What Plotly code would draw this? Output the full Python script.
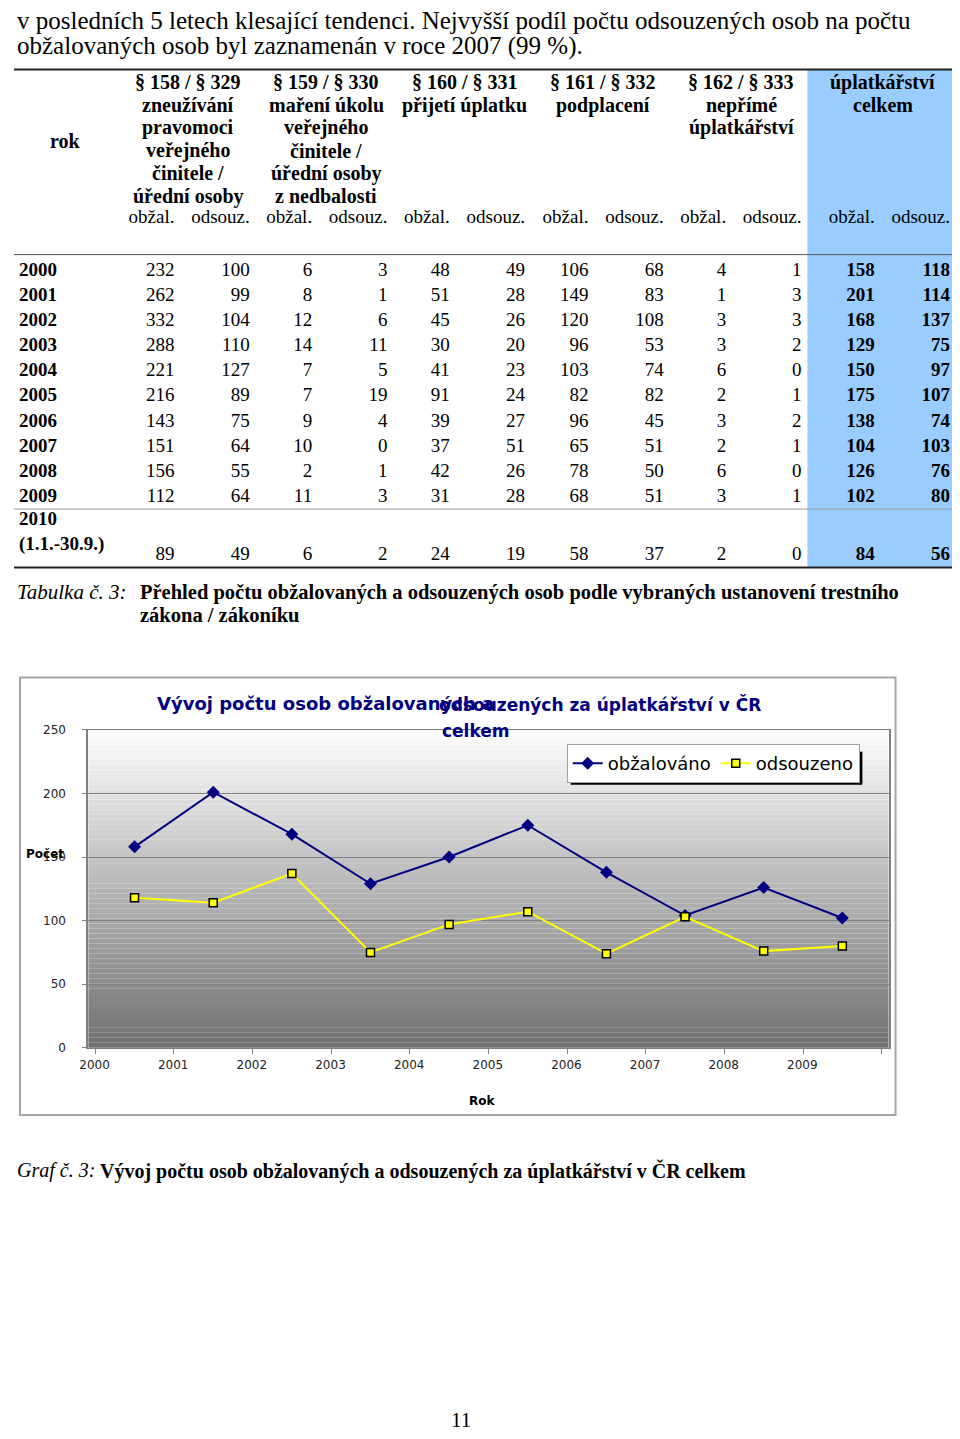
import plotly.graph_objects as go

# the page body keeps the browser's 8px margin, so the figure is 16px smaller
# than the window and every page position is shifted by that margin
PAGE_W, PAGE_H = 960, 1439
OFF = 8
W, H = PAGE_W - 2 * OFF, PAGE_H - 2 * OFF
SERIF = "Liberation Serif"
SANS = "DejaVu Sans"

# ---- table data (obžal. / odsouz. per paragraph) ----
row_labels = ["2000", "2001", "2002", "2003", "2004", "2005", "2006", "2007",
              "2008", "2009", "2010<br>(1.1.-30.9.)"]
obzal_158 = [232, 262, 332, 288, 221, 216, 143, 151, 156, 112, 89]
odsouz_158 = [100, 99, 104, 110, 127, 89, 75, 64, 55, 64, 49]
obzal_159 = [6, 8, 12, 14, 7, 7, 9, 10, 2, 11, 6]
odsouz_159 = [3, 1, 6, 11, 5, 19, 4, 0, 1, 3, 2]
obzal_160 = [48, 51, 45, 30, 41, 91, 39, 37, 42, 31, 24]
odsouz_160 = [49, 28, 26, 20, 23, 24, 27, 51, 26, 28, 19]
obzal_161 = [106, 149, 120, 96, 103, 82, 96, 65, 78, 68, 58]
odsouz_161 = [68, 83, 108, 53, 74, 82, 45, 51, 50, 51, 37]
obzal_162 = [4, 1, 3, 3, 6, 2, 3, 2, 6, 3, 2]
odsouz_162 = [1, 3, 3, 2, 0, 1, 2, 1, 0, 1, 0]
obzal_celkem = [158, 201, 168, 129, 150, 175, 138, 104, 126, 102, 84]
odsouz_celkem = [118, 114, 137, 75, 97, 107, 74, 103, 76, 80, 56]

group_headers = [
    ["§ 158 / § 329", "zneužívání", "pravomoci", "veřejného", "činitele /", "úřední osoby"],
    ["§ 159 / § 330", "maření úkolu", "veřejného", "činitele /", "úřední osoby", "z nedbalosti"],
    ["§ 160 / § 331", "přijetí úplatku"],
    ["§ 161 / § 332", "podplacení"],
    ["§ 162 / § 333", "nepřímé", "úplatkářství"],
    ["úplatkářství", "celkem"],
]
sub_headers = ["obžal.", "odsouz."]

# ---- chart data ----
chart_years = ["2000", "2001", "2002", "2003", "2004", "2005", "2006", "2007", "2008", "2009"]
chart_obzalovano = [158, 201, 168, 129, 150, 175, 138, 104, 126, 102]
chart_odsouzeno = [118, 114, 137, 75, 97, 107, 74, 103, 76, 80]

# layout helpers (page pixel -> paper fraction)
def px(x):
    return (x - OFF) / W

def py(y):
    return 1 - (y - OFF) / H

table_cols = [obzal_158, odsouz_158, obzal_159, odsouz_159, obzal_160, odsouz_160,
              obzal_161, odsouz_161, obzal_162, odsouz_162, obzal_celkem, odsouz_celkem]
col_right = [167, 243, 306, 382, 445, 521, 585, 661, 724, 800, 874, 950]
group_center = [181, 320, 460, 600, 739, 882]
row_y = [266.5 + 25.4 * i for i in range(10)] + [554]
label_y = row_y[:10] + [row_y[10] - 23]

fig = go.Figure()

# chart lines
fig.add_trace(go.Scatter(
    x=chart_years, y=chart_obzalovano, mode="lines+markers", name="obžalováno",
    line=dict(color="#000080", width=2),
    marker=dict(symbol="diamond", size=10, color="#000080"),
))
fig.add_trace(go.Scatter(
    x=chart_years, y=chart_odsouzeno, mode="lines+markers", name="odsouzeno",
    line=dict(color="#ffff00", width=2),
    marker=dict(symbol="square", size=8, color="#ffff00", line=dict(color="#000000", width=1.5)),
))

# table numbers
for j, (vals, xr) in enumerate(zip(table_cols, col_right)):
    fig.add_trace(go.Scatter(
        x=[xr] * len(vals), y=row_y, text=[str(v) for v in vals], mode="text",
        textposition="middle left", marker=dict(size=0),
        textfont=dict(family=SERIF, size=19, color="black",
                      weight="bold" if j >= 10 else "normal"),
        xaxis="x2", yaxis="y2", showlegend=False, hoverinfo="skip",
    ))
    fig.add_trace(go.Scatter(
        x=[xr], y=[213], text=[sub_headers[j % 2]], mode="text",
        textposition="middle left", marker=dict(size=0),
        textfont=dict(family=SERIF, size=19, color="black"),
        xaxis="x2", yaxis="y2", showlegend=False, hoverinfo="skip",
    ))

fig.add_trace(go.Scatter(
    x=[10] * len(row_labels), y=label_y, text=row_labels, mode="text",
    textposition="middle right", marker=dict(size=0),
    textfont=dict(family=SERIF, size=19, color="black", weight="bold"),
    xaxis="x2", yaxis="y2", showlegend=False, hoverinfo="skip",
))

annotations = []

def note(text, x, y, size=19, family=SERIF, xanchor="left", color="black", **kw):
    annotations.append(dict(text=text, x=px(x), y=py(y), xref="paper", yref="paper",
                            xanchor=xanchor, yanchor="middle", showarrow=False,
                            font=dict(family=family, size=size, color=color), **kw))

note("v posledních 5 letech klesající tendenci. Nejvyšší podíl počtu odsouzených osob na počtu", 6, 14, size=25)
note("obžalovaných osob byl zaznamenán v roce 2007 (99 %).", 6, 39, size=25)

note("<b>rok</b>", 57, 135, size=20, xanchor="center")
for cx, lines in zip(group_center, group_headers):
    for k, line in enumerate(lines):
        note("<b>" + line + "</b>", cx, 76 + 23 * k, size=20, xanchor="center")

note("<i>Tabulka č. 3:</i>", 6, 591, size=21)
note("<b>Přehled počtu obžalovaných a odsouzených osob podle vybraných ustanovení trestního</b>", 130, 591, size=20.5)
note("<b>zákona / zákoníku</b>", 130, 614, size=20.5)

# chart title (overlapping as in the original)
note("<b>Vývoj počtu osob obžalovaných a</b>", 147, 703, size=18, family=SANS, color="#000080")
note("<b>odsouzených za úplatkářství v ČR</b>", 432, 704, size=17, family=SANS, color="#000080")
note("<b>celkem</b>", 435, 731, size=17, family=SANS, color="#000080")
note("<b>Počet</b>", 15, 855, size=12, family=SANS)
note("<b>Rok</b>", 477, 1105, size=12, family=SANS, xanchor="center")

note("<i>Graf č. 3:</i>", 6, 1175, size=20)
note("<b>Vývoj počtu osob obžalovaných a odsouzených za úplatkářství v ČR celkem</b>", 90, 1175, size=20)
note("11", 456, 1427, size=21, xanchor="center")

shapes = []
# table decorations
shapes.append(dict(type="rect", xref="paper", yref="paper", x0=px(806), x1=px(957),
                   y0=py(566), y1=py(63), fillcolor="#99ccff", line=dict(width=0), layer="below"))
for yy, col, wd in [(63, "#222222", 2), (250, "#555555", 1), (507, "#9a9a9a", 1), (566, "#222222", 2)]:
    shapes.append(dict(type="line", xref="paper", yref="paper", x0=px(5), x1=px(957),
                       y0=py(yy), y1=py(yy), line=dict(color=col, width=wd)))
# chart frame
shapes.append(dict(type="rect", xref="paper", yref="paper", x0=px(11), x1=px(895),
                   y0=py(1119), y1=py(677), line=dict(color="#a6a6a6", width=2), layer="below"))
# plot-area gradient
N = 64
for k in range(N):
    t = (k + 0.5) / N
    g = int(round(112 + (253 - 112) * t))
    shapes.append(dict(type="rect", xref="x domain", yref="y domain", x0=0, x1=1,
                       y0=k / N, y1=(k + 1) / N, fillcolor=f"rgb({g},{g},{g})",
                       line=dict(width=0), layer="below"))
# legend shadow
shapes.append(dict(type="line", xref="paper", yref="paper", x0=px(567), x1=px(861),
                   y0=py(784), y1=py(784), line=dict(color="black", width=3)))
shapes.append(dict(type="line", xref="paper", yref="paper", x0=px(860), x1=px(860),
                   y0=py(785), y1=py(752), line=dict(color="black", width=3)))

fig.update_layout(
    width=W, height=H, margin=dict(l=0, r=0, t=0, b=0),
    paper_bgcolor="white", plot_bgcolor="rgba(0,0,0,0)",
    showlegend=True,
    legend=dict(x=px(563), y=py(764), xanchor="left", yanchor="middle", orientation="h",
                bgcolor="white", bordercolor="#a0a0a0", borderwidth=1,
                font=dict(family=SANS, size=18, color="black"), itemwidth=30),
    xaxis=dict(domain=[px(80), px(888)], type="category", tickson="boundaries",
               ticks="outside", ticklen=5, tickcolor="#808080", showline=True,
               linecolor="#808080", linewidth=1, mirror=True, showgrid=False,
               ticklabelshift=-40, ticklabelstandoff=6,
               tickfont=dict(family=SANS, size=12, color="#222222"), fixedrange=True),
    yaxis=dict(domain=[py(1051), py(730)], range=[0, 250], dtick=50, showgrid=True,
               gridcolor="#808080", gridwidth=1, showline=True, linecolor="#808080",
               linewidth=2, mirror=True, ticks="outside", ticklen=4, tickcolor="#808080",
               ticklabelstandoff=14, zeroline=False,
               tickfont=dict(family=SANS, size=12, color="#222222"), fixedrange=True),
    xaxis2=dict(domain=[0, 1], range=[OFF, OFF + W], visible=False, anchor="y2", fixedrange=True),
    yaxis2=dict(domain=[0, 1], range=[OFF + H, OFF], visible=False, anchor="x2", fixedrange=True),
    annotations=annotations, shapes=shapes,
)

fig.write_html("out.html", config={"displayModeBar": False})
